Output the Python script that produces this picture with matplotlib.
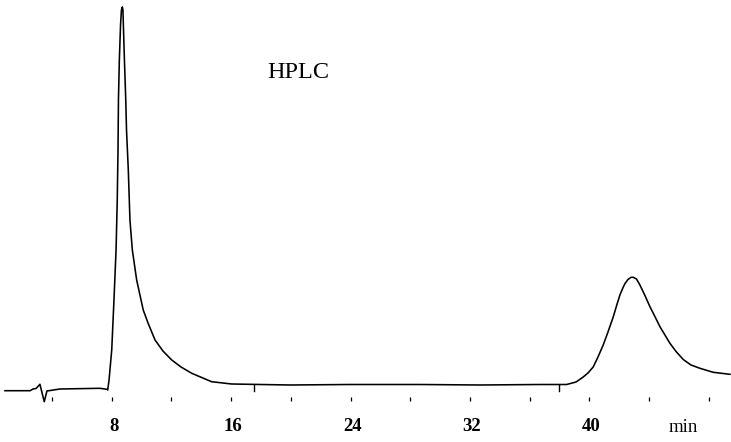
import matplotlib
matplotlib.use("Agg")
import matplotlib.pyplot as plt
from matplotlib.transforms import ScaledTranslation

# Chromatogram trace (time in min, detector signal in arbitrary units)
time_min = [0.85, 2.53, 2.73, 2.93, 3.19, 3.48, 3.66, 4.53, 7.21, 7.68, 7.73,
            7.82, 8.00, 8.15, 8.29, 8.37, 8.42, 8.45, 8.51, 8.59, 8.65, 8.71,
            8.75, 8.79, 8.85, 8.94, 8.99, 9.11, 9.22, 9.38, 9.67, 10.11, 10.43,
            10.90, 11.43, 12.02, 12.64, 13.36, 14.69, 16.03, 19.94, 23.96, 28.65,
            32.67, 36.68, 38.47, 39.10, 39.58, 39.90, 40.25, 40.57, 40.92, 41.24,
            41.59, 41.85, 42.04, 42.25, 42.38, 42.58, 42.78, 42.93, 43.15, 43.38,
            43.70, 44.05, 44.40, 44.72, 45.39, 45.80, 46.28, 46.80, 47.40, 48.29,
            49.41]
signal = [-1.7, -1.7, 0.0, 0.5, 4.7, -12.7, -2.0, 0.0, 0.7, -0.3, -1.0,
          9, 39, 89, 139, 189, 239, 289, 329, 364, 379, 382,
          379, 359, 329, 289, 259, 219, 169, 139, 109, 79, 66,
          49, 38, 29, 22, 15.7, 7.3, 5.0, 4.0, 4.5, 4.5,
          4.0, 4.5, 4.5, 7.0, 12.0, 16.0, 22.0, 32.0, 44.0, 57.0,
          72.0, 85.0, 94.0, 101.5, 105.5, 109.5, 111.7, 111.7, 110.0, 104.0,
          94.0, 82.3, 72.0, 62.3, 45.7, 37.5, 29.5, 24.0, 20.7, 16.7,
          14.7]

# Event marks on the trace
event_times = [17.53, 37.96]
event_levels = [4.5, 4.5]

major_ticks = [8, 16, 24, 32, 40]
major_labels = ["8", "16", "24", "32", "40"]
minor_ticks = [4, 12, 20, 28, 36, 44, 48]
title_text = "HPLC"
unit_text = "min"

fig = plt.figure(figsize=(7.31, 4.42), dpi=100)
ax = fig.add_axes([0, 0, 1, 1])
ax.plot(time_min, signal, color="black", lw=1.15, solid_joinstyle="round")
for t, s in zip(event_times, event_levels):
    ax.plot([t, t], [s, s - 6.5], color="black", lw=1.0)

ax.set_xlim(0.516, 49.48)
ax.set_ylim(-53, 389)

for sp in ax.spines.values():
    sp.set_visible(False)
ax.spines["bottom"].set_position(("data", -8))
ax.yaxis.set_visible(False)
ax.set_xticks(major_ticks)
ax.set_xticklabels(major_labels)
ax.set_xticks(minor_ticks, minor=True)
ax.tick_params(axis="x", which="both", direction="out", length=3, width=0.9,
               color="black", pad=12)
shift = ScaledTranslation(2 / 100, 0, fig.dpi_scale_trans)
for lab in ax.get_xticklabels():
    lab.set_fontfamily("Liberation Serif")
    lab.set_fontweight("bold")
    lab.set_fontsize(13.5)
    lab.set_transform(lab.get_transform() + shift)

ax.text(20.5, 316, title_text, fontfamily="Liberation Serif", fontsize=17.5,
        ha="center", va="center")
ax.text(46.3, -38, unit_text, fontfamily="Liberation Serif", fontsize=13.5,
        ha="center", va="center")

fig.savefig("out.png", dpi=100)
